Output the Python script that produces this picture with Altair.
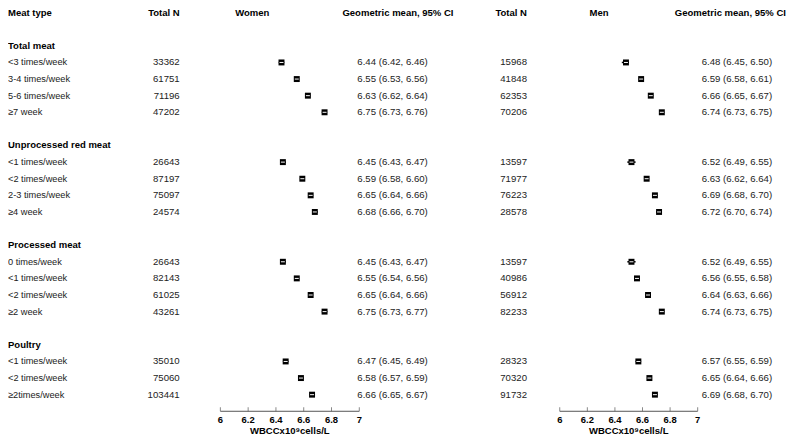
import altair as alt
import pandas as pd

# ---------------- data ----------------
groups = ["Total meat", "Unprocessed red meat", "Processed meat", "Poultry"]
categories = [
    ["<3 times/week", "3-4 times/week", "5-6 times/week", "≥7 week"],
    ["<1 times/week", "<2 times/week", "2-3 times/week", "≥4 week"],
    ["0 times/week", "<1 times/week", "<2 times/week", "≥2 week"],
    ["<1 times/week", "<2 times/week", "≥2times/week"],
]
women_n = [[33362, 61751, 71196, 47202],
           [26643, 87197, 75097, 24574],
           [26643, 82143, 61025, 43261],
           [35010, 75060, 103441]]
women_mean = [[6.44, 6.55, 6.63, 6.75],
              [6.45, 6.59, 6.65, 6.68],
              [6.45, 6.55, 6.65, 6.75],
              [6.47, 6.58, 6.66]]
women_lo = [[6.42, 6.53, 6.62, 6.73],
            [6.43, 6.58, 6.64, 6.66],
            [6.43, 6.54, 6.64, 6.73],
            [6.45, 6.57, 6.65]]
women_hi = [[6.46, 6.56, 6.64, 6.76],
            [6.47, 6.60, 6.66, 6.70],
            [6.47, 6.56, 6.66, 6.77],
            [6.49, 6.59, 6.67]]
men_n = [[15968, 41848, 62353, 70206],
         [13597, 71977, 76223, 28578],
         [13597, 40986, 56912, 82233],
         [28323, 70320, 91732]]
men_mean = [[6.48, 6.59, 6.66, 6.74],
            [6.52, 6.63, 6.69, 6.72],
            [6.52, 6.56, 6.64, 6.74],
            [6.57, 6.65, 6.69]]
men_lo = [[6.45, 6.58, 6.65, 6.73],
          [6.49, 6.62, 6.68, 6.70],
          [6.49, 6.55, 6.63, 6.73],
          [6.55, 6.64, 6.68]]
men_hi = [[6.50, 6.61, 6.67, 6.75],
          [6.55, 6.64, 6.70, 6.74],
          [6.55, 6.58, 6.66, 6.75],
          [6.59, 6.66, 6.70]]
tick_values = [6, 6.2, 6.4, 6.6, 6.8, 7]
tick_labels = ["6", "6.2", "6.4", "6.6", "6.8", "7"]
headers = ["Meat type", "Total N", "Women", "Geometric mean, 95% CI",
           "Total N", "Men", "Geometric mean, 95% CI"]
axis_title = "WBCCx10⁹cells/L"

# ---------------- build tables ----------------
rows = []
sections = []
r = 2
for g, cats in enumerate(categories):
    sections.append({"text": groups[g], "row": r})
    r += 1
    for i, c in enumerate(cats):
        rows.append({
            "row": r, "cat": c,
            "wn": str(women_n[g][i]), "wm": women_mean[g][i],
            "wl": women_lo[g][i], "wh": women_hi[g][i],
            "wci": f"{women_mean[g][i]:.2f} ({women_lo[g][i]:.2f}, {women_hi[g][i]:.2f})",
            "mn": str(men_n[g][i]), "mm": men_mean[g][i],
            "ml": men_lo[g][i], "mh": men_hi[g][i],
            "mci": f"{men_mean[g][i]:.2f} ({men_lo[g][i]:.2f}, {men_hi[g][i]:.2f})",
        })
        r += 1
    r += 1
df = pd.DataFrame(rows)
sec_df = pd.DataFrame(sections)
hdr_df = pd.DataFrame({"text": headers, "row": [0] * len(headers)})
axis_row = 24
ax_df = pd.DataFrame({"x0": [6], "x1": [7], "row": [axis_row]})
ticks_df = pd.DataFrame({"v": tick_values, "lab": tick_labels, "row": axis_row})
title_df = pd.DataFrame({"v": [6.5], "t": [axis_title], "row": [axis_row]})

FONT = "Liberation Sans"
Y = alt.Y("row:Q", scale=alt.Scale(domain=[0, 23], range=[3, 388], zero=False, nice=False), axis=None)
W_SCALE = alt.Scale(domain=[6, 7], range=[214, 354], zero=False, nice=False)
M_SCALE = alt.Scale(domain=[6, 7], range=[556, 695], zero=False, nice=False)

base = alt.Chart(df)
layers = []


def text_col(data, field, xpix, align, bold=False, size=None, color="#222"):
    fs = size if size else (9.6 if bold else 9.7)
    return alt.Chart(data).mark_text(
        align=align, baseline="middle", font=FONT,
        fontSize=fs, fontWeight="bold" if bold else "normal",
        color="#000" if bold else color,
    ).encode(x=alt.value(xpix), y=Y, text=f"{field}:N")


# header row
hdr_pos = [(0, "left"), (173, "right"), (229, "left"), (337, "left"),
           (523, "right"), (586, "left"), (672, "left")]
for i, (xp, al) in enumerate(hdr_pos):
    layers.append(text_col(hdr_df.iloc[[i]], "text", xp, al, bold=True))

# sections
layers.append(text_col(sec_df, "text", 0, "left", bold=True))
# body columns
layers.append(text_col(df, "cat", 0, "left", size=9.3))
layers.append(text_col(df, "wn", 173, "right"))
layers.append(text_col(df, "wci", 352, "left"))
layers.append(text_col(df, "mn", 523, "right"))
layers.append(text_col(df, "mci", 699, "left"))


def forest(scale, m, lo, hi):
    ci = base.mark_rule(color="#000", strokeWidth=1.5).encode(
        x=alt.X(f"{lo}:Q", scale=scale, axis=None), x2=f"{hi}:Q", y=Y)
    box = base.mark_square(size=36, color="#000", opacity=1).encode(
        x=alt.X(f"{m}:Q", scale=scale, axis=None), y=Y)
    line = base.mark_tick(orient="horizontal", size=4, thickness=1, color="#fff", opacity=1).encode(
        x=alt.X(f"{m}:Q", scale=scale, axis=None), y=Y)
    return [ci, box, line]


def axis_layers(scale):
    dom = alt.Chart(ax_df).mark_rule(color="#555", strokeWidth=1).encode(
        x=alt.X("x0:Q", scale=scale, axis=None), x2="x1:Q", y=Y)
    tk = alt.Chart(ticks_df).mark_tick(orient="vertical", size=4, thickness=1, color="#555", yOffset=-2).encode(
        x=alt.X("v:Q", scale=scale, axis=None), y=Y)
    lab = alt.Chart(ticks_df).mark_text(font=FONT, fontSize=9.5, fontWeight="bold", dy=9,
                                        baseline="middle", color="#000").encode(
        x=alt.X("v:Q", scale=scale, axis=None), y=Y, text="lab:N")
    tt = alt.Chart(title_df).mark_text(font=FONT, fontSize=9.6, fontWeight="bold", dy=19.5,
                                       baseline="middle", color="#000").encode(
        x=alt.X("v:Q", scale=scale, axis=None), y=Y, text="t:N")
    return [dom, tk, lab, tt]


layers += forest(W_SCALE, "wm", "wl", "wh")
layers += forest(M_SCALE, "mm", "ml", "mh")
layers += axis_layers(W_SCALE)
layers += axis_layers(M_SCALE)

chart = alt.layer(*layers).resolve_scale(x="independent").properties(
    width=784, height=428, padding=0,
    autosize=alt.AutoSizeParams(type="none"),
).configure_view(stroke=None)

chart.save("out.html", embed_options={"renderer": "svg", "actions": False})
